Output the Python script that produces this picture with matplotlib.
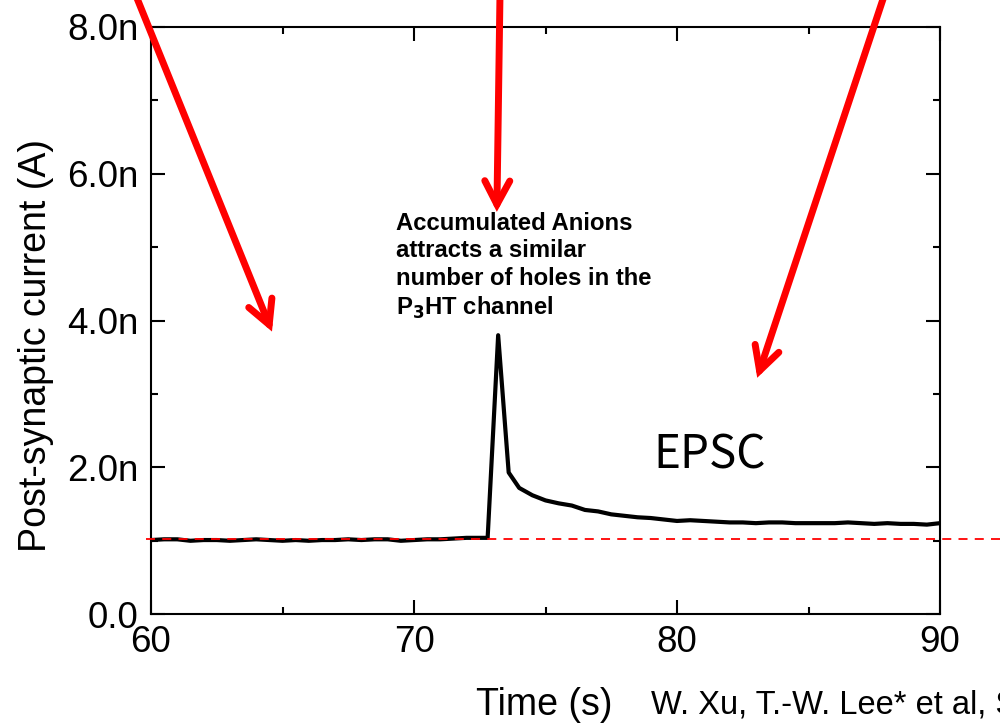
import matplotlib
matplotlib.use("Agg")
import matplotlib.pyplot as plt
from matplotlib.ticker import MultipleLocator, FuncFormatter

# EPSC trace, current in nA
time_s = [60.0, 60.5, 61.0, 61.5, 62.0, 62.5, 63.0, 63.5, 64.0, 64.5, 65.0,
          65.5, 66.0, 66.5, 67.0, 67.5, 68.0, 68.5, 69.0, 69.5, 70.0, 70.5,
          71.0, 71.5, 72.0, 72.5, 72.8, 73.2, 73.6, 74.0, 74.5, 75.0, 75.5,
          76.0, 76.5, 77.0, 77.5, 78.0, 78.5, 79.0, 79.5, 80.0, 80.5, 81.0,
          81.5, 82.0, 82.5, 83.0, 83.5, 84.0, 84.5, 85.0, 85.5, 86.0, 86.5,
          87.0, 87.5, 88.0, 88.5, 89.0, 89.5, 90.0]
current_nA = [1.01, 1.02, 1.02, 1.00, 1.01, 1.01, 1.00, 1.01, 1.02, 1.01, 1.00,
              1.01, 1.00, 1.01, 1.01, 1.02, 1.01, 1.02, 1.02, 1.00, 1.01, 1.02,
              1.02, 1.03, 1.04, 1.04, 1.04, 3.80, 1.93, 1.72, 1.62, 1.55, 1.51,
              1.48, 1.42, 1.40, 1.36, 1.34, 1.32, 1.31, 1.29, 1.27, 1.28, 1.27,
              1.26, 1.25, 1.25, 1.24, 1.25, 1.25, 1.24, 1.24, 1.24, 1.24, 1.25,
              1.24, 1.23, 1.24, 1.23, 1.23, 1.22, 1.24]
baseline_nA = 1.02

# red arrows: (tail, tip) in data units
arrows = [((59.4, 8.45), (64.6, 3.85)),
          ((73.27, 8.45), (73.15, 5.48)),
          ((87.9, 8.45), (83.05, 3.22))]

note = "Accumulated Anions\nattracts a similar\nnumber of holes in the\nP$_\\mathbf{3}$HT channel"

fig = plt.figure(figsize=(10, 7.26), dpi=100)
ax = fig.add_axes([0.151, 0.154, 0.789, 0.809])

ax.plot(time_s, current_nA, color="black", lw=3, zorder=3)
ax.plot([59.8, 92.5], [baseline_nA, baseline_nA], color="red", lw=1.3,
        ls=(0, (5, 4)), clip_on=False, zorder=4)

for tail, tip in arrows:
    ax.annotate("", xy=tip, xytext=tail, annotation_clip=False,
                arrowprops=dict(arrowstyle="->,head_length=1.7,head_width=0.9",
                                color="red", lw=5, shrinkA=0, shrinkB=0,
                                capstyle="round", joinstyle="miter"))

ax.text(69.3, 5.48, note, fontsize=17.2, fontweight="bold", va="top",
        family="Liberation Sans", linespacing=1.25)
ax.text(79.1, 1.99, "EPSC", fontsize=33, family="Noto Sans CJK KR", va="baseline")

ax.set_xlim(60, 90)
ax.set_ylim(0, 8)
ax.xaxis.set_major_locator(MultipleLocator(10))
ax.xaxis.set_minor_locator(MultipleLocator(5))
ax.yaxis.set_major_locator(MultipleLocator(2))
ax.yaxis.set_minor_locator(MultipleLocator(1))
ax.yaxis.set_major_formatter(FuncFormatter(lambda v, p: "0.0" if v == 0 else f"{v:.1f}n"))
ax.tick_params(which="both", direction="in", top=True, right=True, width=1.5)
ax.tick_params(which="major", length=10, labelsize=26.5)
ax.tick_params(axis="y", which="major", pad=9)
ax.tick_params(axis="x", which="major", pad=8)
ax.tick_params(which="minor", length=5)
for lab in ax.get_xticklabels() + ax.get_yticklabels():
    lab.set_family("Liberation Sans")
for s in ax.spines.values():
    s.set_linewidth(1.5)

fig.text(0.036, 1 - 345 / 726, "Post-synaptic current (A)", fontsize=27,
         family="Liberation Sans", rotation=90, ha="center", va="center")
fig.text(0.544, 1 - 705 / 726, "Time (s)", fontsize=27, family="Liberation Sans",
         ha="center", va="center")
fig.text(0.651, 1 - 705 / 726, "W. Xu, T.-W. Lee* et al, Sci. Adv. 2016", fontsize=23.5,
         family="Liberation Sans", ha="left", va="center")

fig.savefig("out.png", dpi=100)
